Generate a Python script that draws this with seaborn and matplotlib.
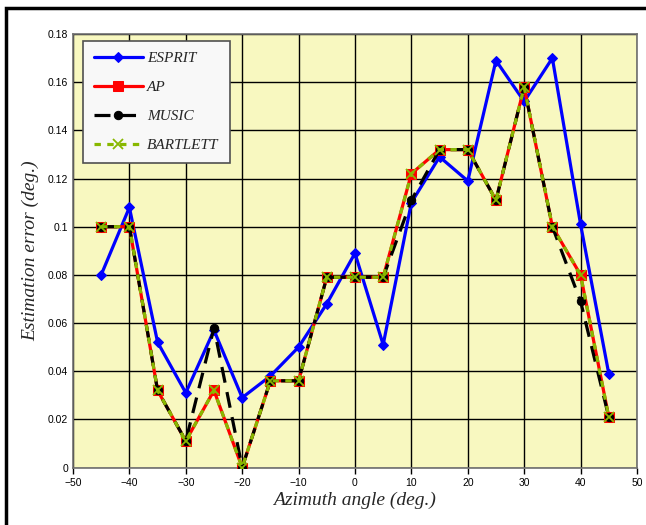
import matplotlib.pyplot as plt
import seaborn as sns
import numpy as np
import pandas as pd
from matplotlib.patches import Rectangle

# Data -----------------------------------------
angles = [-45, -40, -35, -30, -25, -20, -15, -10, -5, 0, 5, 10, 15, 20, 25, 30, 35, 40, 45]
esprit = [0.080, 0.108, 0.052, 0.031, 0.057, 0.029, 0.038, 0.050, 0.068, 0.089,
          0.051, 0.110, 0.129, 0.119, 0.169, 0.152, 0.170, 0.101, 0.039]
ap = [0.100, 0.100, 0.032, 0.011, 0.032, 0.000, 0.036, 0.036, 0.079, 0.079,
      0.079, 0.122, 0.132, 0.132, 0.111, 0.158, 0.100, 0.080, 0.021]
music = [0.100, 0.100, 0.032, 0.011, 0.058, 0.000, 0.036, 0.036, 0.079, 0.079,
         0.079, 0.111, 0.132, 0.132, 0.111, 0.158, 0.100, 0.069, 0.021]
bartlett = [0.100, 0.100, 0.032, 0.011, 0.032, 0.000, 0.036, 0.036, 0.079, 0.079,
            0.079, 0.122, 0.132, 0.132, 0.111, 0.158, 0.100, 0.080, 0.021]

df = pd.DataFrame({'angle': angles, 'ESPRIT': esprit, 'AP': ap,
                   'MUSIC': music, 'BARTLETT': bartlett})

sns.set_style('white')
plt.rcParams['font.family'] = ['Liberation Sans', 'DejaVu Sans']

fig = plt.figure(figsize=(6.46, 5.25), dpi=100)
ax = fig.add_axes([0.113, 0.1095, 0.873, 0.8257])
ax.set_facecolor('#F8F8C0')

green = '#88B800'

sns.lineplot(data=df, x='angle', y='ESPRIT', ax=ax, color='#0000FF', lw=2.3,
             marker='D', markersize=5, markeredgecolor='#0000FF', label='ESPRIT', zorder=3)
sns.lineplot(data=df, x='angle', y='AP', ax=ax, color='#FF0000', lw=2.3,
             marker='s', markersize=6.5, markeredgecolor='#FF0000', label='AP', zorder=4)
sns.lineplot(data=df, x='angle', y='MUSIC', ax=ax, color='black', lw=2.3,
             marker='o', markersize=6, markeredgecolor='black', label='MUSIC', zorder=5)
ax.lines[-1].set_dashes([5, 3])
sns.lineplot(data=df, x='angle', y='BARTLETT', ax=ax, color=green, lw=2.3,
             marker='x', markersize=7, markeredgewidth=1.3, markeredgecolor=green,
             label='BARTLETT', zorder=6)
ax.lines[-1].set_dashes([2, 2])

ax.set_xlim(-50, 50)
ax.set_ylim(0, 0.18)
ax.set_xticks(np.arange(-50, 51, 10))
ax.set_yticks(np.arange(0, 0.181, 0.02))
ax.set_yticklabels(['0', '0.02', '0.04', '0.06', '0.08', '0.1', '0.12', '0.14', '0.16', '0.18'])
ax.tick_params(axis='both', labelsize=7.5, colors='black')
ax.tick_params(axis='x', length=4, width=1, direction='out', bottom=True)
ax.tick_params(axis='y', length=0)
ax.grid(True, color='black', lw=1)
ax.set_axisbelow(True)
for s in ax.spines.values():
    s.set_color('#707070')
    s.set_linewidth(1.2)

ax.set_xlabel('Azimuth angle (deg.)', family='Liberation Serif', style='italic', fontsize=14, labelpad=3)
ax.set_ylabel('Estimation error (deg.)', family='Liberation Serif', style='italic', fontsize=14, labelpad=6)

leg = ax.legend(loc='upper left', bbox_to_anchor=(0.018, 0.984), borderaxespad=0, frameon=True,
                fancybox=False,
                prop={'family': 'Liberation Serif', 'style': 'italic', 'size': 11},
                handlelength=3.2, labelspacing=1.0, borderpad=0.7, handletextpad=0.3)
leg.get_frame().set_facecolor('#F8F8F8')
leg.get_frame().set_edgecolor('#505050')
leg.get_frame().set_linewidth(1.2)
leg.get_frame().set_alpha(1)

# outer chart frame (cut at right/bottom in the picture)
fig.patches.append(Rectangle((0.009, -0.05), 1.1, 1.034, transform=fig.transFigure,
                             fill=False, edgecolor='black', lw=2.5))

fig.savefig('out.png', dpi=100)
